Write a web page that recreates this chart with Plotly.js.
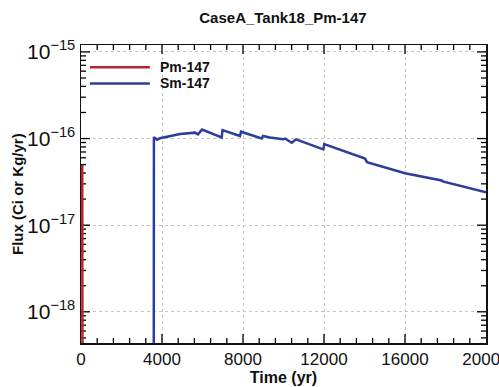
<!DOCTYPE html>
<html><head><meta charset="utf-8">
<script src="https://cdn.plot.ly/plotly-3.0.1.min.js"></script>
<style>html,body{margin:0;padding:0;background:#fff}#chart{width:499px;height:387px}</style>
</head><body><div id="chart"></div>
<script>
const pmTime = [60, 61, 80];
const pmFlux = [5e-17, 4.9e-17, 1e-20];
const smTime = [3590, 3600, 3753, 3901, 4889, 5630, 5778, 5975, 6948, 6988, 7852, 7901, 8923, 8988, 9333, 9975, 10074, 10405, 10617, 11965, 12014, 14025, 14123, 16000, 17812, 17861, 20000];
const smFlux = [1e-20, 1.04e-16, 9.7e-17, 1.01e-16, 1.13e-16, 1.17e-16, 1.12e-16, 1.27e-16, 1.03e-16, 1.25e-16, 1.07e-16, 1.20e-16, 1.00e-16, 1.07e-16, 1.03e-16, 9.8e-17, 1.00e-16, 8.95e-17, 9.8e-17, 7.5e-17, 8.64e-17, 5.88e-17, 5.35e-17, 3.98e-17, 3.28e-17, 3.2e-17, 2.40e-17];
const seriesNames = ['Pm-147', 'Sm-147'];
const seriesColors = ['#b8232b', '#2c3d9c'];
const xTicks = [0, 4000, 8000, 12000, 16000, 20000];
const xTickText = ['0', '4000', '8000', '12000', '16000', '20000'];
const yTicks = [1e-15, 1e-16, 1e-17, 1e-18];
const yTickText = ['10<sup>−15</sup>', '10<sup>−16</sup>', '10<sup>−17</sup>', '10<sup>−18</sup>'];

const font = 'Liberation Sans, Arial, sans-serif';
const xRange = [0, 20000];
const yRangeLog = [-18.36, -14.92];
const plotW = 499 - 81 - 13, plotH = 387 - 45 - 44;

// inside tick marks on all four sides, built as one line trace with gaps
const tx = [], ty = [];
const ySpan = yRangeLog[1] - yRangeLog[0], xSpan = xRange[1] - xRange[0];
function xTick(v, len) {
  const d = len / plotH * ySpan;
  tx.push(v, v, null, v, v, null);
  ty.push(Math.pow(10, yRangeLog[0]), Math.pow(10, yRangeLog[0] + d), null,
          Math.pow(10, yRangeLog[1]), Math.pow(10, yRangeLog[1] - d), null);
}
function yTick(lv, len) {
  const d = len / plotW * xSpan;
  const yv = Math.pow(10, lv);
  tx.push(xRange[0], xRange[0] + d, null, xRange[1], xRange[1] - d, null);
  ty.push(yv, yv, null, yv, yv, null);
}
for (let v = 800; v < xRange[1]; v += 800) xTick(v, xTicks.includes(v) ? 9 : 5);
xTicks.forEach(v => { if (v % 800 !== 0 && v > xRange[0] && v < xRange[1]) xTick(v, 9); });
for (let d = -19; d <= -15; d++) {
  for (let k = 1; k <= 9; k++) {
    const lv = d + Math.log10(k);
    if (lv > yRangeLog[0] && lv < yRangeLog[1]) yTick(lv, k === 1 ? 9 : 5);
  }
}

const traces = [
  {x: tx, y: ty, mode: 'lines', line: {color: '#000', width: 1.3}, showlegend: false, hoverinfo: 'skip', connectgaps: false},
  {x: pmTime, y: pmFlux, name: seriesNames[0], mode: 'lines', line: {color: seriesColors[0], width: 2.5}, showlegend: false},
  {x: smTime, y: smFlux, name: seriesNames[1], mode: 'lines', line: {color: seriesColors[1], width: 2.5}, showlegend: false}
];
const shapes = [], annotations = [];
seriesNames.forEach((n, i) => {
  const yp = 0.925 - i * 0.054;
  shapes.push({type: 'line', xref: 'paper', yref: 'paper', x0: 0.022, x1: 0.17, y0: yp, y1: yp, line: {color: seriesColors[i], width: 2.5}});
  annotations.push({xref: 'paper', yref: 'paper', x: 0.19, y: yp, xanchor: 'left', yanchor: 'middle', showarrow: false, text: '<b>' + n + '</b>', font: {family: font, size: 14, color: '#111'}});
});
annotations.push({xref: 'paper', yref: 'paper', x: 0, xshift: -64, y: 0.5, textangle: -90, showarrow: false, xanchor: 'center', yanchor: 'middle', text: '<b>Flux (Ci or Kg/yr)</b>', font: {family: font, size: 15, color: '#111'}});

const axisCommon = {
  ticks: '', showline: true, linecolor: '#111', linewidth: 1.5, mirror: true,
  showgrid: true, gridcolor: '#c4c4c4', griddash: 'dot', gridwidth: 1, zeroline: false,
  ticklabeloverflow: 'allow'
};
const layout = {
  width: 499, height: 387,
  margin: {l: 81, r: 13, t: 45, b: 44},
  paper_bgcolor: '#fff', plot_bgcolor: '#fff',
  title: {text: '<b>CaseA_Tank18_Pm-147</b>', font: {family: font, size: 15, color: '#111'}, x: 0.567, xanchor: 'center', y: 0.955, yanchor: 'middle'},
  showlegend: false,
  shapes: shapes, annotations: annotations,
  xaxis: Object.assign({}, axisCommon, {
    range: xRange, tickmode: 'array', tickvals: xTicks, ticktext: xTickText,
    tickfont: {family: font, size: 17, color: '#111'},
    title: {text: '<b>Time (yr)</b>', font: {family: font, size: 16, color: '#111'}, standoff: 2}
  }),
  yaxis: Object.assign({}, axisCommon, {
    type: 'log', range: yRangeLog, tickmode: 'array', tickvals: yTicks, ticktext: yTickText,
    tickfont: {family: font, size: 21, color: '#111'}
  })
};
Plotly.newPlot('chart', traces, layout, {displayModeBar: false, staticPlot: true});
</script></body></html>
